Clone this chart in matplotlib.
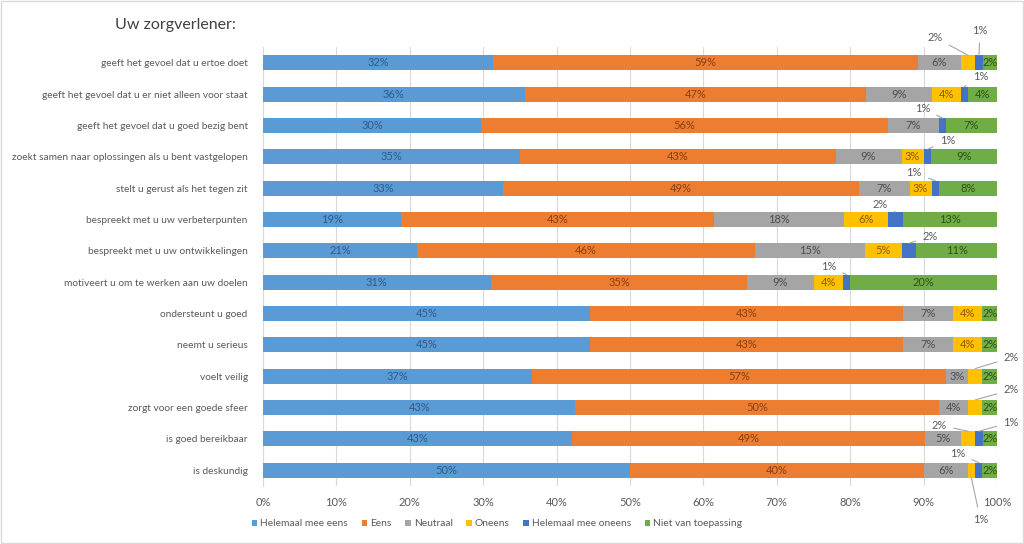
import matplotlib
matplotlib.use("Agg")
import matplotlib.pyplot as plt
from matplotlib.patches import Rectangle
import numpy as np

plt.rcParams['font.family'] = ['Lato', 'DejaVu Sans']

title = "Uw zorgverlener:"
categories = [
    "geeft het gevoel dat u ertoe doet",
    "geeft het gevoel dat u er niet alleen voor staat",
    "geeft het gevoel dat u goed bezig bent",
    "zoekt samen naar oplossingen als u bent vastgelopen",
    "stelt u gerust als het tegen zit",
    "bespreekt met u uw verbeterpunten",
    "bespreekt met u uw ontwikkelingen",
    "motiveert u om te werken aan uw doelen",
    "ondersteunt u goed",
    "neemt u serieus",
    "voelt veilig",
    "zorgt voor een goede sfeer",
    "is goed bereikbaar",
    "is deskundig",
]
series_names = ["Helemaal mee eens", "Eens", "Neutraal", "Oneens",
                "Helemaal mee oneens", "Niet van toepassing"]
helemaal_mee_eens = [32, 36, 30, 35, 33, 19, 21, 31, 45, 45, 37, 43, 43, 50]
eens = [59, 47, 56, 43, 49, 43, 46, 35, 43, 43, 57, 50, 49, 40]
neutraal = [6, 9, 7, 9, 7, 18, 15, 9, 7, 7, 3, 4, 5, 6]
oneens = [2, 4, 0, 3, 3, 6, 5, 4, 4, 4, 2, 2, 2, 1]
helemaal_mee_oneens = [1, 1, 1, 1, 1, 2, 2, 1, 0, 0, 0, 0, 1, 1]
niet_van_toepassing = [2, 4, 7, 9, 8, 13, 11, 20, 2, 2, 2, 2, 2, 2]
xticks = [0, 10, 20, 30, 40, 50, 60, 70, 80, 90, 100]

colors = ["#5B9BD5", "#ED7D31", "#A5A5A5", "#FFC000", "#4472C4", "#70AD47"]
label_colors = ["#2E5B8A", "#8A3E0F", "#4D4D4D", "#8A5A00", "#1F3A6B", "#2F5019"]

# callout label offsets in pixels: (row, series): (dx, dy, anchor 'top'/'bottom')
callouts = {
    (0, 3): (-33, 18, 'top'), (0, 4): (1, 25, 'top'),
    (1, 4): (16, 10, 'top'), (2, 4): (-20, 10, 'top'),
    (3, 4): (20, 9, 'top'), (4, 4): (-21, 8, 'top'),
    (5, 4): (-15, 8, 'top'), (6, 4): (21, 7, 'top'),
    (7, 4): (-18, 8, 'top'),
    (10, 3): (36, 11, 'top'), (11, 3): (36, 10, 'top'),
    (12, 3): (-29, 6, 'top'), (12, 4): (32, 9, 'top'),
    (13, 4): (-21, 9, 'top'), (13, 3): (9, -42, 'bottom'),
}

data = np.array([helemaal_mee_eens, eens, neutraal, oneens,
                 helemaal_mee_oneens, niet_van_toepassing], dtype=float).T
totals = data.sum(axis=1)
norm = data / totals[:, None] * 100

fig = plt.figure(figsize=(10.24, 5.44), dpi=100)
ax = fig.add_axes([263/1024, 1-485.7/544, (997-263)/1024, (485.7-47.3)/544])

y = np.arange(len(categories))
h = 0.48
left = np.zeros(len(categories))
for s in range(6):
    ax.barh(y, norm[:, s], left=left, height=h, color=colors[s],
            label=series_names[s], zorder=3)
    for i in range(len(categories)):
        v = data[i, s]
        if v <= 0:
            continue
        cx = left[i] + norm[i, s] / 2
        txt = f"{int(v)}%"
        if (i, s) in callouts:
            dx, dy, anc = callouts[(i, s)]
            yy = i - h/2 if anc == 'top' else i + h/2
            ax.annotate(txt, xy=(cx, yy), xytext=(dx, dy),
                        textcoords='offset pixels', ha='center', va='center',
                        fontsize=8, color='#595959', zorder=5,
                        arrowprops=dict(arrowstyle='-', color='#A6A6A6',
                                        lw=0.8, shrinkA=3, shrinkB=0))
        else:
            ax.text(cx, i, txt, ha='center', va='center', fontsize=8,
                    color=label_colors[s], zorder=4)
    left += norm[:, s]

ax.set_xlim(0, 100)
ax.set_ylim(len(categories) - 0.5, -0.5)
ax.set_yticks(y)
ax.set_yticklabels(categories, fontsize=7.3, color='#595959')
ax.set_xticks(xticks)
ax.set_xticklabels([f"{t}%" for t in xticks], fontsize=8, color='#595959')
ax.tick_params(axis='both', length=0)
ax.tick_params(axis='y', pad=11)
ax.tick_params(axis='x', pad=8)
ax.grid(axis='x', color='#D9D9D9', lw=0.8, zorder=0)
for sp in ['top', 'right', 'bottom']:
    ax.spines[sp].set_visible(False)
ax.spines['left'].set_color('#D9D9D9')

fig.text(115/1024, 1-25/544, title, fontsize=11.5, color='#404040',
         ha='left', va='center')

handles, labels = ax.get_legend_handles_labels()
leg = fig.legend(handles, labels, loc='center', ncol=6,
                 bbox_to_anchor=(497/1024, 1-524/544), frameon=False,
                 fontsize=7.4, handlelength=0.55, handleheight=0.55,
                 handletextpad=0.3, columnspacing=1.3)
for t in leg.get_texts():
    t.set_color('#595959')

fig.patches.append(Rectangle((0.001, 0.001), 0.998, 0.998, transform=fig.transFigure,
                             fill=False, edgecolor='#D9D9D9', lw=1))

fig.savefig("out.png", dpi=100)
